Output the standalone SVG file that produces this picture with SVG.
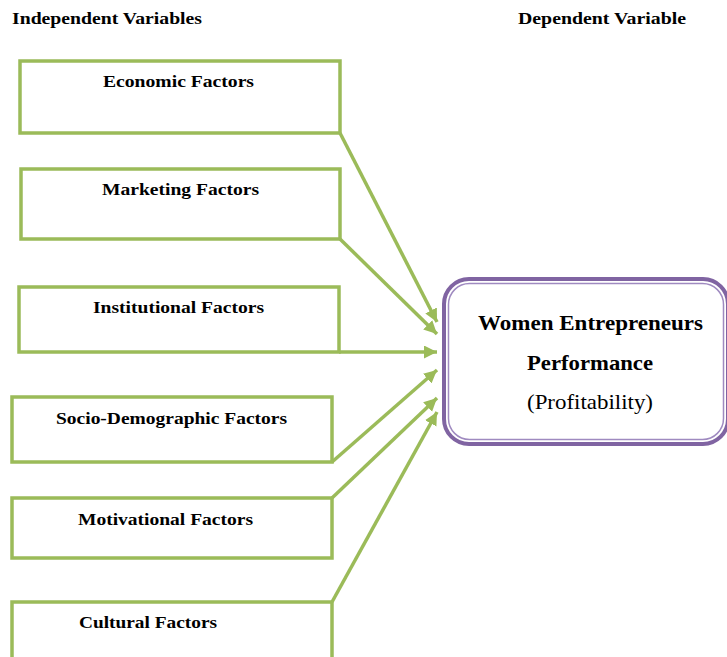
<svg xmlns="http://www.w3.org/2000/svg" width="727" height="657" viewBox="0 0 727 657">
<style>
.box{fill:#fff;stroke:#9BBB59;stroke-width:3.5}
.lbl{font-family:"Liberation Serif","Times New Roman",serif;font-weight:bold;font-size:17px;fill:#000;text-anchor:start}
.hdr{font-family:"Liberation Serif","Times New Roman",serif;font-weight:bold;font-size:16.5px;fill:#000}
.main{font-family:"Liberation Serif","Times New Roman",serif;font-size:21px;fill:#000}
.con{fill:none;stroke:#9BBB59;stroke-width:3.5;marker-end:url(#ah)}
</style>
<defs>
<marker id="ah" markerUnits="userSpaceOnUse" markerWidth="16" markerHeight="14" refX="13" refY="6.5" orient="auto">
<path d="M0,0 L13,6.5 L0,13 Z" fill="#9BBB59"/>
</marker>
</defs>
<rect width="727" height="657" fill="#fff"/>
<text class="hdr" x="12" y="24" textLength="190" lengthAdjust="spacingAndGlyphs">Independent Variables</text>
<text class="hdr" x="518" y="24" textLength="168" lengthAdjust="spacingAndGlyphs">Dependent Variable</text>
<g id="connectors">
<path class="con" d="M340,133 L437,322"/>
<path class="con" d="M340,239 L437,334"/>
<path class="con" d="M339,352 L437,352"/>
<path class="con" d="M332,462 L437,370"/>
<path class="con" d="M332,498 L437,398"/>
<path class="con" d="M332,602 L437,412"/>
</g>
<g id="economic">
<rect class="box" x="20" y="61" width="320" height="72"/>
<text class="lbl" x="103" y="87" textLength="151" lengthAdjust="spacingAndGlyphs">Economic Factors</text>
</g>
<g id="marketing">
<rect class="box" x="21" y="169" width="319" height="70"/>
<text class="lbl" x="102" y="195" textLength="157" lengthAdjust="spacingAndGlyphs">Marketing Factors</text>
</g>
<g id="institutional">
<rect class="box" x="19" y="287" width="320" height="65"/>
<text class="lbl" x="93" y="313" textLength="171" lengthAdjust="spacingAndGlyphs">Institutional Factors</text>
</g>
<g id="socio">
<rect class="box" x="12" y="397" width="320" height="65"/>
<text class="lbl" x="56" y="424" textLength="231" lengthAdjust="spacingAndGlyphs">Socio-Demographic Factors</text>
</g>
<g id="motivational">
<rect class="box" x="12" y="498" width="320" height="60"/>
<text class="lbl" x="78" y="525" textLength="175" lengthAdjust="spacingAndGlyphs">Motivational Factors</text>
</g>
<g id="cultural">
<rect class="box" x="12" y="602" width="320" height="70"/>
<text class="lbl" x="79" y="628" textLength="138" lengthAdjust="spacingAndGlyphs">Cultural Factors</text>
</g>
<g id="performance">
<rect x="444" y="279" width="284" height="165" rx="25" ry="25" fill="#fff" stroke="#8064A2" stroke-width="4"/>
<rect x="448.5" y="283.5" width="275" height="156" rx="21" ry="21" fill="none" stroke="#9F8AC0" stroke-width="1.5"/>
<text class="main" x="478" y="330" font-weight="bold" textLength="225" lengthAdjust="spacingAndGlyphs">Women Entrepreneurs</text>
<text class="main" x="527" y="370" font-weight="bold" textLength="126" lengthAdjust="spacingAndGlyphs">Performance</text>
<text class="main" x="527" y="409" textLength="126" lengthAdjust="spacingAndGlyphs">(Profitability)</text>
</g>
</svg>
